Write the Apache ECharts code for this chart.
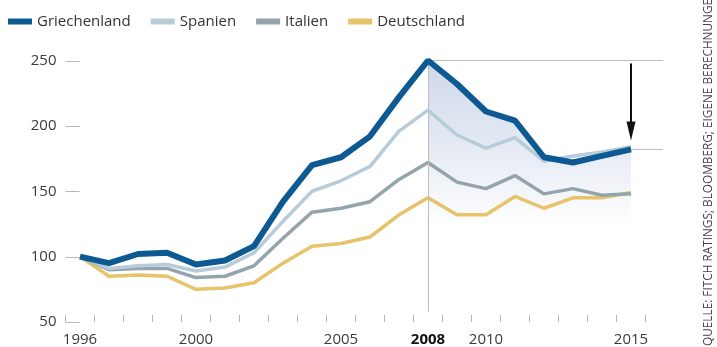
<!DOCTYPE html>
<html>
<head>
<meta charset="utf-8">
<script src="https://cdn.jsdelivr.net/npm/echarts@6/dist/echarts.min.js"></script>
<style>
  html, body { margin: 0; padding: 0; background: #fff; }
  #chart { width: 717px; height: 347px; }
</style>
</head>
<body>
<div id="chart"></div>
<script>
// Index, 1996 = 100
const years = ['1996','1997','1998','1999','2000','2001','2002','2003','2004','2005',
               '2006','2007','2008','2009','2010','2011','2012','2013','2014','2015'];
const griechenland = [100, 95, 102, 103, 94, 97, 108, 142, 170, 176, 192, 222, 250, 232, 211, 204, 176, 172, 177, 182];
const spanien      = [100, 91, 93, 94, 89, 92, 103, 127, 150, 158, 169, 196, 212, 193, 183, 191, 173, 177, 180, 184];
const italien      = [100, 90, 91, 91, 84, 85, 93, 114, 134, 137, 142, 159, 172, 157, 152, 162, 148, 152, 147, 148];
const deutschland  = [100, 85, 86, 85, 75, 76, 80, 95, 108, 110, 115, 132, 145, 132, 132, 146, 137, 145, 145, 149];
const yTicks = [50, 100, 150, 200, 250];
const shownYears = ['1996', '2000', '2005', '2008', '2010', '2015'];
const markYear = '2008';
const lastYear = '2015';
const sourceText = 'QUELLE: FITCH RATINGS; BLOOMBERG; EIGENE BERECHNUNGEN';

const COLORS = {
  Griechenland: '#0d5a92',
  Spanien: '#b7ccd8',
  Italien: '#94a4ad',
  Deutschland: '#e7c36b'
};
const FONT = '"Open Sans", "Noto Sans", sans-serif';

const markIdx = years.indexOf(markYear);
const shade = griechenland.map((v, i) => (i >= markIdx ? v : null));
const peak = griechenland[markIdx];
const last = griechenland[griechenland.length - 1];

const chart = echarts.init(document.getElementById('chart'), null, { renderer: 'canvas' });

function line(name, data, width, z) {
  return {
    name, type: 'line', data, z,
    showSymbol: false, symbol: 'none', animation: false,
    lineStyle: { color: COLORS[name], width },
    itemStyle: { color: COLORS[name] }
  };
}

chart.setOption({
  animation: false,
  textStyle: { fontFamily: FONT },
  grid: { left: 65.5, right: 71.5, top: 60.5, bottom: 24.5 },
  legend: {
    data: ['Griechenland', 'Spanien', 'Italien', 'Deutschland'],
    left: 8, top: 14, padding: 0,
    itemWidth: 24, itemHeight: 6, itemGap: 20,
    icon: 'rect',
    textStyle: { fontSize: 15, color: '#333', fontFamily: FONT }
  },
  xAxis: {
    type: 'category',
    data: years,
    boundaryGap: true,
    axisLine: { show: false },
    axisTick: { show: true, inside: true, length: 7, interval: 0, lineStyle: { color: '#b8b8b8', width: 1 } },
    axisLabel: {
      interval: 0, margin: 10, fontSize: 15, color: '#3a3a3a', fontFamily: FONT,
      formatter: v => shownYears.includes(v) ? (v === markYear ? '{b|' + v + '}' : v) : '',
      rich: { b: { fontWeight: 'bold', fontSize: 15, color: '#111', fontFamily: FONT } }
    },
    splitLine: { show: false }
  },
  yAxis: {
    type: 'value',
    min: yTicks[0], max: yTicks[yTicks.length - 1], interval: 50,
    axisLine: { show: false },
    axisTick: { show: false },
    axisLabel: { margin: 9, fontSize: 15, color: '#3a3a3a', fontFamily: FONT },
    splitLine: { show: false }
  },
  series: [
    {
      name: 'shade', type: 'line', data: shade, z: 1,
      showSymbol: false, symbol: 'none', silent: true,
      lineStyle: { width: 0 },
      areaStyle: {
        origin: 'start',
        color: new echarts.graphic.LinearGradient(0, 0, 0, 1, [
          { offset: 0, color: 'rgba(105,135,188,0.46)' },
          { offset: 0.35, color: 'rgba(105,135,188,0.24)' },
          { offset: 0.64, color: 'rgba(105,135,188,0)' },
          { offset: 1, color: 'rgba(105,135,188,0)' }
        ])
      },
      markLine: {
        silent: true, symbol: 'none', label: { show: false },
        lineStyle: { color: '#bdbdbd', width: 1, type: 'solid' },
        data: [[{ coord: [markYear, peak] }, { coord: [markYear, 58] }]]
      }
    },
    line('Deutschland', deutschland, 3.5, 3),
    line('Italien', italien, 3.5, 4),
    line('Spanien', spanien, 3.5, 5),
    line('Griechenland', griechenland, 6, 6)
  ]
});

// Tick dashes, reference lines, arrow and source note placed from the axis scales
const pPeak = chart.convertToPixel({ gridIndex: 0 }, [markYear, peak]);
const pLast = chart.convertToPixel({ gridIndex: 0 }, [lastYear, last]);
const gridLeft = chart.getModel().getComponent('grid').coordinateSystem.getRect().x;
const rightEnd = pLast[0] + 32;
const ax = pLast[0];
const arrowTop = pPeak[1] + 3;
const arrowTip = pLast[1] - 9;

const tickMarks = yTicks.map(v => {
  const y = Math.round(chart.convertToPixel({ yAxisIndex: 0 }, v)) + 0.5;
  return { type: 'line', z: 2, shape: { x1: gridLeft, y1: y, x2: gridLeft + 14, y2: y },
           style: { stroke: '#b8b8b8', lineWidth: 1 } };
});

chart.setOption({
  graphic: tickMarks.concat([
    { type: 'line', z: 2, shape: { x1: pPeak[0], y1: pPeak[1], x2: rightEnd, y2: pPeak[1] },
      style: { stroke: '#bdbdbd', lineWidth: 1 } },
    { type: 'line', z: 2, shape: { x1: pLast[0], y1: pLast[1], x2: rightEnd, y2: pLast[1] },
      style: { stroke: '#bdbdbd', lineWidth: 1 } },
    { type: 'line', z: 10, shape: { x1: ax, y1: arrowTop, x2: ax, y2: arrowTip - 12 },
      style: { stroke: '#111', lineWidth: 2 } },
    { type: 'polygon', z: 10, shape: { points: [[ax - 4.5, arrowTip - 19], [ax + 4.5, arrowTip - 19], [ax, arrowTip]] },
      style: { fill: '#111' } },
    { type: 'text', z: 10, x: 709, y: 346, rotation: Math.PI / 2,
      style: { text: sourceText, fontSize: 11.8, fontFamily: FONT, fill: '#444',
               textAlign: 'left', textVerticalAlign: 'middle' } }
  ])
});
</script>
</body>
</html>
